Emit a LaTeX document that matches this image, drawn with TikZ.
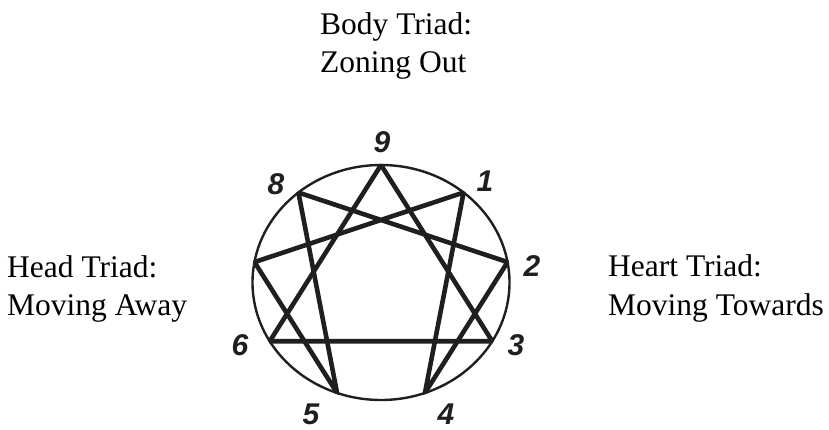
\documentclass[tikz,border=0pt]{standalone}
\usepackage{fontspec}
\setmainfont{Liberation Serif}
\newfontfamily\numfont{Liberation Sans}
\begin{document}
\begin{tikzpicture}[x=1pt,y=-1pt,
  ink/.style={draw=black!88},
  ring/.style={ink,line width=2.4pt},
  starline/.style={ink,line width=4.6pt,line join=miter},
  triad/.style={font=\fontsize{31.5}{38}\selectfont,anchor=base west,inner sep=0pt,text=black},
  num/.style={font=\numfont\bfseries\itshape\fontsize{30}{30}\selectfont,inner sep=0pt,anchor=center,text=black!88}]
\useasboundingbox (0,0) rectangle (829,430);
\def\cx{381}\def\cy{282.5}\def\rx{128.5}\def\ry{117.5}
\foreach \n in {1,...,9}{
  \coordinate (p\n) at ({\cx+\rx*cos(90-40*\n)},{\cy-\ry*sin(90-40*\n)});
}
\begin{scope}
  \clip (\cx,\cy) ellipse [x radius=\rx+1.2, y radius=\ry+1.2];
  \draw[starline] (p9) -- (p3) -- (p6) -- cycle;
  \draw[starline] (p1) -- (p4) -- (p2) -- (p8) -- (p5) -- (p7) -- cycle;
\end{scope}
\draw[ring] (\cx,\cy) ellipse [x radius=\rx, y radius=\ry];
% numbers
\node[num] (n9) at (382,142) {9};
\node[num] (n1) at (485,181) {1};
\node[num] (n8) at (276,184) {8};
\node[num] (n2) at (532,266) {2};
\node[num] (n3) at (516,345) {3};
\node[num] (n6) at (240,345) {6};
\node[num] (n5) at (311,414) {5};
\node[num] (n4) at (446,414) {4};
% triads
\node[triad] (body1) at (320,35) {Body Triad:};
\node[triad] (body2) at (320,73) {Zoning Out};
\node[triad] (head1) at (7,277) {Head Triad:};
\node[triad] (head2) at (7,315) {Moving Away};
\node[triad] (heart1) at (608,276) {Heart Triad:};
\node[triad] (heart2) at (608,315) {Moving Towards};
\end{tikzpicture}
\end{document}
